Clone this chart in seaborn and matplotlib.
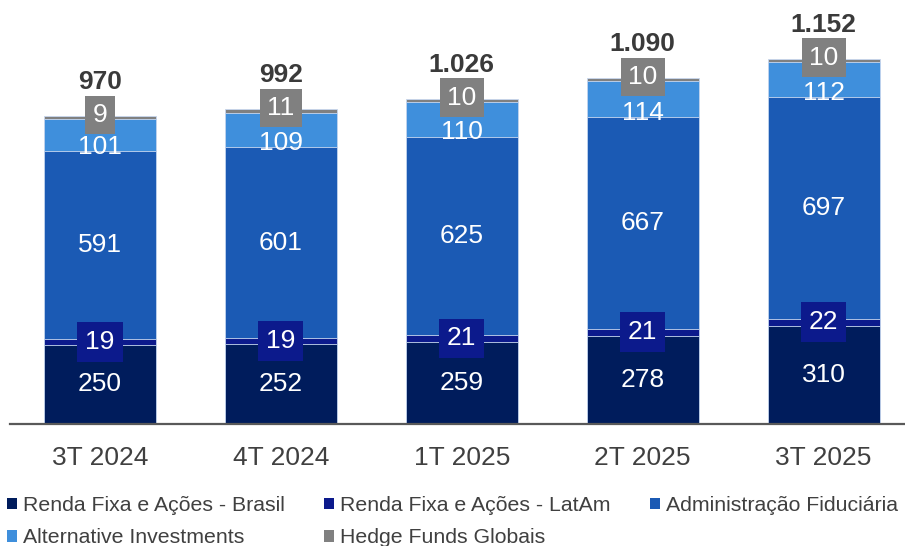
import matplotlib
matplotlib.use("Agg")
import matplotlib.pyplot as plt
from matplotlib.patches import Patch
import seaborn as sns
import pandas as pd
import numpy as np

periods = ["3T 2024", "4T 2024", "1T 2025", "2T 2025", "3T 2025"]
brasil = [250, 252, 259, 278, 310]
latam = [19, 19, 21, 21, 22]
fiduciaria = [591, 601, 625, 667, 697]
alternative = [101, 109, 110, 114, 112]
hedge = [9, 11, 10, 10, 10]
totals = ["970", "992", "1.026", "1.090", "1.152"]

series_names = ["Renda Fixa e Ações - Brasil", "Renda Fixa e Ações - LatAm",
                "Administração Fiduciária", "Alternative Investments", "Hedge Funds Globais"]
series_vals = [brasil, latam, fiduciaria, alternative, hedge]
colors = ["#001c5c", "#0c1a8c", "#1b5ab4", "#3f8fdc", "#808080"]

sns.set_theme(style="white")
plt.rcParams["font.family"] = ["Liberation Sans", "DejaVu Sans"]

fig = plt.figure(figsize=(9.05, 5.46), dpi=100)
ax = fig.add_axes([10 / 905, 122 / 546, 1 - 10 / 905, 414 / 546])

cum = np.cumsum(np.array(series_vals), axis=0)
for i in reversed(range(len(series_names))):
    df = pd.DataFrame({"period": periods, "value": cum[i]})
    sns.barplot(data=df, x="period", y="value", color=colors[i], width=0.62,
                saturation=1, edgecolor="#c8d8f0", linewidth=0.6, ax=ax, zorder=2)

fs = 19
for j in range(len(periods)):
    b = 0
    for i, vals in enumerate(series_vals):
        v = vals[j]
        if i == 0 or i == 2:
            ax.text(j, b + v / 2, str(v), ha="center", va="center", color="white",
                    fontsize=fs, zorder=5)
        elif i == 1:
            ax.text(j, b + v / 2, str(v), ha="center", va="center", color="white",
                    fontsize=fs, zorder=5,
                    bbox=dict(boxstyle="square,pad=0.3", fc=colors[1], ec="none"))
        elif i == 3:
            ax.text(j, b + 14, str(v), ha="center", va="center", color="white",
                    fontsize=fs, zorder=5)
        else:
            ax.text(j, b + v + 3, str(v), ha="center", va="center", color="white",
                    fontsize=fs, zorder=6,
                    bbox=dict(boxstyle="square,pad=0.28", fc=colors[4], ec="none"))
        b += v
    ax.text(j, b + 106, totals[j], ha="center", va="center", color="#3a3a3a",
            fontsize=fs, fontweight="bold", zorder=5)

ax.set_xlim(-0.497, 4.45)
ax.set_ylim(0, 1304)
ax.set_xlabel("")
ax.set_ylabel("")
ax.set_yticks([])
for s in ["top", "right", "left"]:
    ax.spines[s].set_visible(False)
ax.spines["bottom"].set_color("#595959")
ax.spines["bottom"].set_linewidth(1.6)
ax.tick_params(axis="x", length=0, pad=16, labelsize=fs, labelcolor="#404040")

order = [0, 3, 1, 4, 2]
handles = [Patch(facecolor=colors[k], edgecolor="none") for k in order]
labels = [series_names[k] for k in order]
fig.legend(handles, labels, ncol=3, loc="upper left", bbox_to_anchor=(7 / 905, 1 - 496 / 546),
           frameon=False, fontsize=15.3, handlelength=0.47, handleheight=0.47,
           handletextpad=0.28, columnspacing=1.85, labelspacing=0.63,
           labelcolor="#404040", borderaxespad=0, borderpad=0)

fig.savefig("out.png", dpi=100)
